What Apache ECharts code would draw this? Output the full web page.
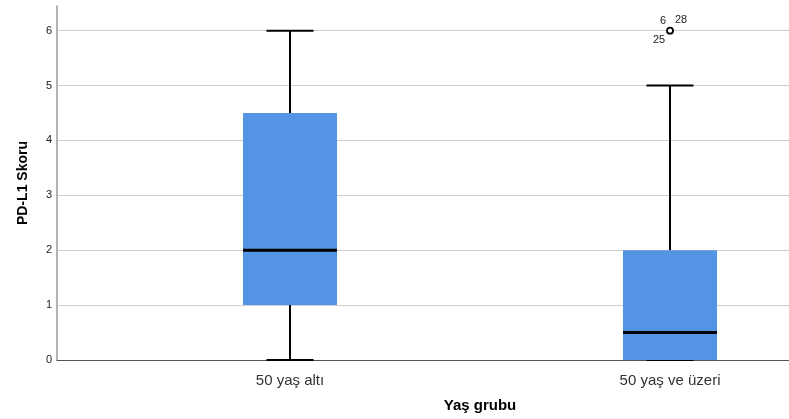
<!DOCTYPE html>
<html>
<head>
<meta charset="utf-8">
<script src="https://cdn.jsdelivr.net/npm/echarts@6/dist/echarts.min.js"></script>
<style>
  html, body { margin: 0; padding: 0; background: #fff; }
  #chart { width: 789px; height: 419px; }
</style>
</head>
<body>
<div id="chart"></div>
<script>
// Age groups (x positions 1 and 2 on the axis)
var groups = ['50 yaş altı', '50 yaş ve üzeri'];
// Box statistics per group: [min, Q1, median, Q3, max]
var boxMin = [0, 0];
var boxQ1 = [1, 0];
var boxMedian = [2, 0.5];
var boxQ3 = [4.5, 2];
var boxMax = [6, 5];
// Outlier points: [group index, value] and their case labels
var outlierGroup = [1];
var outlierValue = [6];
var outlierCases = [['6', '28', '25']];
var yTicks = [0, 1, 2, 3, 4, 5, 6];

var FONT = 'Liberation Sans, Arial, sans-serif';
var BOX_W = 94;

var boxData = groups.map(function (g, i) {
  return [i + 1, boxMin[i], boxQ1[i], boxMedian[i], boxQ3[i], boxMax[i]];
});
var outData = outlierGroup.map(function (g, i) {
  return [g + 1, outlierValue[i], outlierCases[i]];
});

function renderBox(params, api) {
  var x = api.value(0);
  var pMin = api.coord([x, api.value(1)]);
  var pQ1 = api.coord([x, api.value(2)]);
  var pMed = api.coord([x, api.value(3)]);
  var pQ3 = api.coord([x, api.value(4)]);
  var pMax = api.coord([x, api.value(5)]);
  var cx = Math.round(pMin[0]);
  var hw = BOX_W / 2;
  var cap = BOX_W / 4;
  var lineStyle = { stroke: '#000', lineWidth: 2 };
  return {
    type: 'group',
    children: [
      { type: 'line', shape: { x1: cx, y1: pQ1[1], x2: cx, y2: pMin[1] }, style: lineStyle },
      { type: 'line', shape: { x1: cx, y1: pQ3[1], x2: cx, y2: pMax[1] }, style: lineStyle },
      { type: 'line', shape: { x1: cx - cap, y1: pMin[1], x2: cx + cap, y2: pMin[1] }, style: lineStyle },
      { type: 'line', shape: { x1: cx - cap, y1: pMax[1], x2: cx + cap, y2: pMax[1] }, style: lineStyle },
      { type: 'rect', shape: { x: cx - hw, y: pQ3[1], width: BOX_W, height: pQ1[1] - pQ3[1] },
        style: { fill: '#5395e4', stroke: null } },
      { type: 'line', shape: { x1: cx - hw, y1: pMed[1], x2: cx + hw, y2: pMed[1] },
        style: { stroke: '#000', lineWidth: 3 } }
    ]
  };
}

function renderOutlier(params, api) {
  var p = api.coord([api.value(0), api.value(1)]);
  var cases = outData[params.dataIndex][2];
  var ts = { fill: '#222', font: '11px ' + FONT };
  return {
    type: 'group',
    children: [
      { type: 'circle', shape: { cx: p[0], cy: p[1], r: 3 },
        style: { fill: '#fff', stroke: '#000', lineWidth: 1.8 } },
      { type: 'text', x: p[0] - 7, y: p[1] - 10, style: Object.assign({ text: cases[0], align: 'center', verticalAlign: 'middle' }, ts) },
      { type: 'text', x: p[0] + 11, y: p[1] - 11, style: Object.assign({ text: cases[1], align: 'center', verticalAlign: 'middle' }, ts) },
      { type: 'text', x: p[0] - 11, y: p[1] + 9, style: Object.assign({ text: cases[2], align: 'center', verticalAlign: 'middle' }, ts) }
    ]
  };
}

var chart = echarts.init(document.getElementById('chart'), null, { renderer: 'canvas' });
chart.setOption({
  backgroundColor: '#fff',
  animation: false,
  grid: { left: 57, right: 0, top: 6, bottom: 59, containLabel: false },
  xAxis: {
    type: 'value',
    min: 0.3868,
    max: 2.3131,
    name: 'Yaş grubu',
    nameLocation: 'middle',
    nameGap: 38,
    nameTextStyle: { fontFamily: FONT, fontWeight: 'bold', fontSize: 15, color: '#000', padding: [0, 0, 0, 114] },
    axisLine: { show: true, lineStyle: { color: '#555', width: 1.2 } },
    axisTick: { show: false },
    splitLine: { show: false },
    axisLabel: {
      customValues: [1, 2],
      formatter: function (v) { return groups[Math.round(v) - 1] || ''; },
      fontFamily: FONT, fontSize: 15, color: '#333', margin: 13
    }
  },
  yAxis: {
    type: 'value',
    min: 0,
    max: 6.45,
    interval: 1,
    name: 'PD-L1 Skoru',
    nameLocation: 'middle',
    nameGap: 27,
    nameTextStyle: { fontFamily: FONT, fontWeight: 'bold', fontSize: 14, color: '#000' },
    axisLine: { show: true, lineStyle: { color: '#999', width: 1.5 } },
    axisTick: { show: false },
    axisLabel: {
      customValues: yTicks,
      fontFamily: FONT, fontSize: 11, color: '#222', margin: 5
    },
    splitLine: { show: true, showMinLine: false, showMaxLine: false, lineStyle: { color: '#cfcfcf', width: 1 } }
  },
  series: [
    { type: 'custom', renderItem: renderBox, data: boxData, encode: { x: 0, y: [1, 2, 3, 4, 5] }, z: 3 },
    { type: 'custom', renderItem: renderOutlier, data: outData.map(function (d) { return [d[0], d[1]]; }), encode: { x: 0, y: 1 }, z: 4 }
  ]
});
</script>
</body>
</html>
